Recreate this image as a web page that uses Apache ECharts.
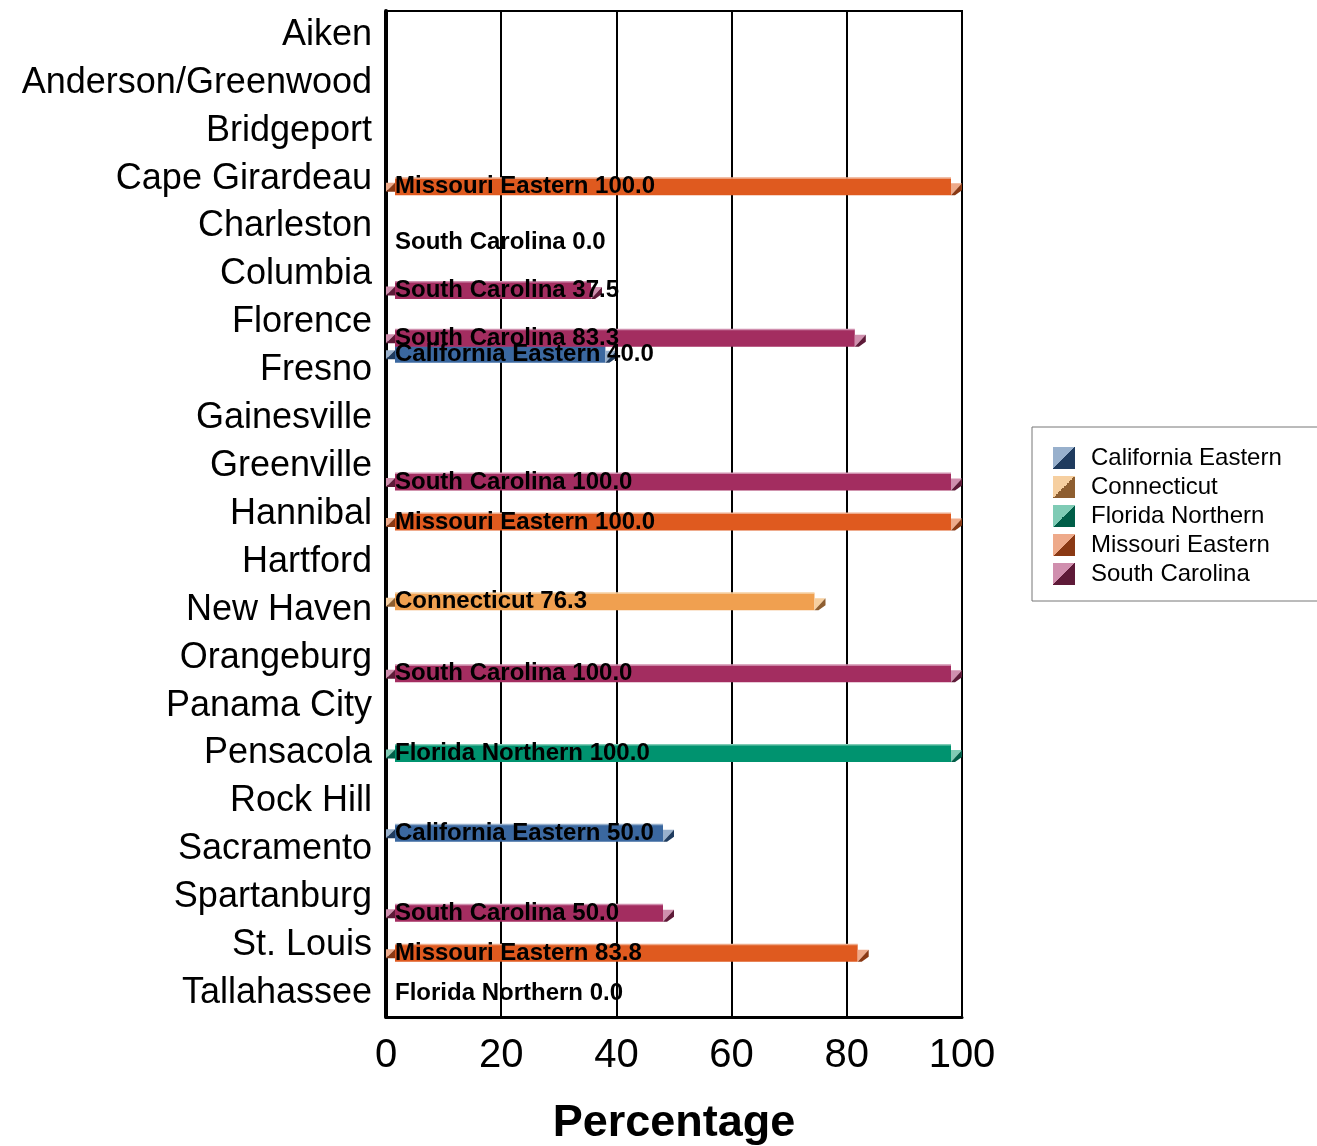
<!DOCTYPE html>
<html>
<head>
<meta charset="utf-8">
<script src="https://cdn.jsdelivr.net/npm/echarts@6/dist/echarts.min.js"></script>
<style>
  html, body { margin: 0; padding: 0; background: #fff; }
  #chart-ctn { width: 1317px; height: 1146px; }
</style>
</head>
<body>
<div id="chart-ctn"></div>
<script>
var cities = ['Aiken', 'Anderson/Greenwood', 'Bridgeport', 'Cape Girardeau', 'Charleston',
  'Columbia', 'Florence', 'Fresno', 'Gainesville', 'Greenville', 'Hannibal', 'Hartford',
  'New Haven', 'Orangeburg', 'Panama City', 'Pensacola', 'Rock Hill', 'Sacramento',
  'Spartanburg', 'St. Louis', 'Tallahassee'];

// one value per city, null = no bar
var californiaEastern = [null, null, null, null, null, null, null, 40.0, null, null, null, null, null, null, null, null, null, 50.0, null, null, null];
var connecticut       = [null, null, null, null, null, null, null, null, null, null, null, null, 76.3, null, null, null, null, null, null, null, null];
var floridaNorthern   = [null, null, null, null, null, null, null, null, null, null, null, null, null, null, null, 100.0, null, null, null, null, 0.0];
var missouriEastern   = [null, null, null, 100.0, null, null, null, null, null, null, 100.0, null, null, null, null, null, null, null, null, 83.8, null];
var southCarolina     = [null, null, null, null, 0.0, 37.5, 83.3, null, null, 100.0, null, null, null, 100.0, null, null, null, null, 50.0, null, null];

var xTicks = [0, 20, 40, 60, 80, 100];

var seriesNames = ['California Eastern', 'Connecticut', 'Florida Northern', 'Missouri Eastern', 'South Carolina'];
var seriesValues = [californiaEastern, connecticut, floridaNorthern, missouriEastern, southCarolina];
// main, light, dark
var palette = [
  ['#3b68a0', '#98b0cc', '#1f3b5e'],
  ['#f0a050', '#f6cfa0', '#8e5e30'],
  ['#00936f', '#7fcbb5', '#005e48'],
  ['#df5a1f', '#eeaa8a', '#8a3914'],
  ['#a32d60', '#d08fae', '#5e1a38']
];

var font = 'Arial, "Liberation Sans", sans-serif';

function diag(light, dark) {
  return {
    type: 'linear', x: 0, y: 0, x2: 1, y2: 1,
    colorStops: [
      {offset: 0, color: light}, {offset: 0.5, color: light},
      {offset: 0.5, color: dark}, {offset: 1, color: dark}
    ]
  };
}

function makeRender(idx) {
  var c = palette[idx];
  var name = seriesNames[idx];
  return function (params, api) {
    var val = api.value(0);
    var cat = api.value(1);
    var p = api.coord([val, cat]);
    var p0 = api.coord([0, cat]);
    var band = api.size([0, 1])[1];
    var cy = p[1] + (idx - 2) * band / 6;
    var x0 = p0[0], xv = p[0];
    var children = [];
    if (val > 0) {
      var top = cy - 8.5, bot = cy + 8.5;
      var xs = x0 + 9, xe = xv - 11;
      if (xe > xs) {
        children.push({type: 'rect', shape: {x: xs, y: top, width: xe - xs, height: bot - top}, style: {fill: c[0]}});
        children.push({type: 'rect', shape: {x: xs, y: top - 1, width: xe - xs, height: 1.5}, style: {fill: c[1]}});
      }
      // left wedge
      children.push({type: 'polygon', shape: {points: [[x0, cy - 4], [x0 + 9, cy - 4], [x0, cy + 5]]}, style: {fill: c[1]}});
      children.push({type: 'polygon', shape: {points: [[x0 + 9, cy - 4], [x0 + 9, cy + 5], [x0, cy + 5]]}, style: {fill: c[2]}});
      // right cap
      var ct = cy - 3.5;
      children.push({type: 'polygon', shape: {points: [[xe, ct], [xv, ct], [xe, bot]]}, style: {fill: c[1]}});
      children.push({type: 'polygon', shape: {points: [[xv, ct], [xv, ct + 7], [xe + 4, bot], [xe, bot]]}, style: {fill: c[2]}});
    }
    children.push({
      type: 'text', z2: 100,
      style: {
        x: x0 + 9, y: cy, text: name + ' ' + val.toFixed(1),
        fill: '#000', font: 'bold 24px ' + font, verticalAlign: 'middle', align: 'left'
      }
    });
    return {type: 'group', children: children};
  };
}

function $each(arr, out) {
  arr.forEach(function (v, k) {
    if (v !== null) out.push([v, k]);
  });
}

var series = [];
var legendData = [];
for (var i = 0; i < seriesNames.length; i++) {
  var data = [];
  $each(seriesValues[i], data);
  series.push({
    name: seriesNames[i],
    type: 'custom',
    renderItem: makeRender(i),
    encode: {x: 0, y: 1},
    itemStyle: {color: palette[i][0]},
    data: data
  });
  legendData.push({name: seriesNames[i], itemStyle: {color: diag(palette[i][1], palette[i][2])}});
}

var chart = echarts.init(document.getElementById('chart-ctn'));
var option = {
  animation: false,
  backgroundColor: '#fff',
  textStyle: {fontFamily: font},
  grid: {
    left: 386, right: 355, top: 11, bottom: 129,
    outerBoundsMode: 'none',
    containLabel: false,
    show: true, borderColor: '#000', borderWidth: 2
  },
  legend: {
    orient: 'vertical',
    left: 1032, top: 427,
    padding: [19, 80, 15, 21],
    borderColor: '#777', borderWidth: 1,
    itemWidth: 22, itemHeight: 22, itemGap: 5,
    icon: 'rect',
    textStyle: {fontSize: 24, color: '#000', fontFamily: font, padding: [0, 0, 0, 11]},
    data: legendData
  },
  xAxis: {
    type: 'value',
    min: xTicks[0], max: xTicks[xTicks.length - 1], interval: 20,
    name: 'Percentage',
    nameLocation: 'middle',
    nameGap: 84,
    nameTextStyle: {fontSize: 45, fontWeight: 'bold', color: '#000', fontFamily: font},
    axisLine: {show: true, lineStyle: {color: '#000', width: 3}},
    axisTick: {show: false},
    axisLabel: {fontSize: 40, color: '#000', margin: 19, fontFamily: font},
    splitLine: {show: true, lineStyle: {color: '#000', width: 2}}
  },
  yAxis: {
    type: 'category',
    inverse: true,
    data: cities,
    axisLine: {show: true, lineStyle: {color: '#000', width: 4}},
    axisTick: {show: false},
    axisLabel: {fontSize: 36, color: '#000', margin: 14, interval: 0, fontFamily: font, padding: [4, 0, 0, 0]},
    splitLine: {show: false}
  },
  series: series
};
chart.setOption(option);
</script>
</body>
</html>
